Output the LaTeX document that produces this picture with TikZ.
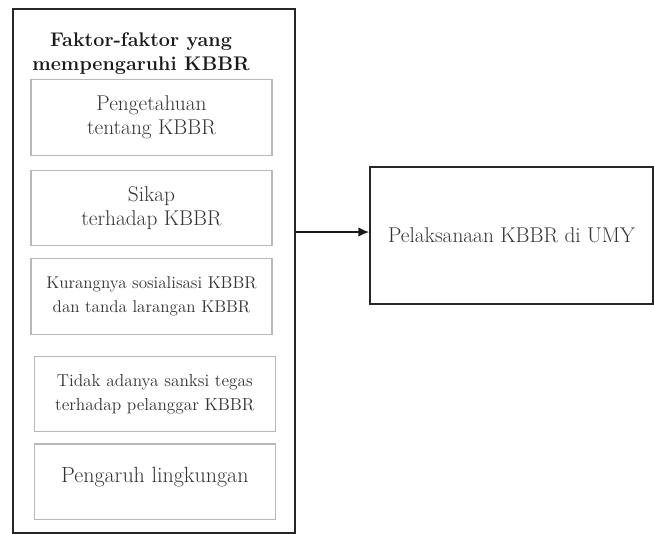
\documentclass[tikz,border=0pt]{standalone}
\usepackage{tikz}
\usetikzlibrary{positioning}
\usetikzlibrary{arrows.meta}

\begin{document}
\begin{tikzpicture}[
                x = 0.75pt, y = -0.75pt,
                factor/.style = {
                    draw = black!28,
                    line width = 0.9pt,
                    minimum width = 180.75pt,
                    minimum height = 56.5pt,
                    inner sep = 0pt,
                    align = center,
                    text = black!80,
                    font = #1
                },
                factor/.default = \fontsize{16}{18}\selectfont,
                frame/.style = {
                    draw = black!85,
                    line width = 1.3pt,
                    inner sep = 0pt
                },
                node distance = {10pt}
            ]
            \useasboundingbox (0,0) rectangle (654,534);

            % left frame with its title
            \node[frame, minimum width = 211.5pt, minimum height = 393pt] (outer) at (154,271) {};
            \node[font=\bfseries\fontsize{14.8}{18}\selectfont, text=black!90, align=center] (title) at (141,53.5) {Faktor-faktor yang\\mempengaruhi KBBR};

            \node[factor] (know) at (151.5,117.5) {Pengetahuan\\tentang KBBR};
            \node[factor, below=10.5pt of know] (attitude) {Sikap\\terhadap KBBR};
            \node[factor=\fontsize{12.8}{18}\selectfont, below=9pt of attitude] (social) {Kurangnya sosialisasi KBBR\\dan tanda larangan KBBR};
            \node[factor=\fontsize{13}{17.5}\selectfont, below=15.75pt of social, xshift=2.5pt] (sanction) {Tidak adanya sanksi tegas\\terhadap pelanggar KBBR};
            \node[factor=\fontsize{16.5}{18}\selectfont, below=8.25pt of sanction, text depth=10pt] (environ) {Pengaruh lingkungan};

            % right box
            \node[frame, minimum width = 212.25pt, minimum height = 102.75pt, text=black!80, font=\fontsize{16}{18}\selectfont] (target) at (511.5,235.5) {Pelaksanaan KBBR di UMY};
            \coordinate (tip) at ([yshift=2.6pt]target.west);

            \draw[-{Latex[length=8pt,width=7pt]}, line width = 1.1pt, black!90] (outer.east |- tip) -- (tip);

         \end{tikzpicture}
\end{document}
